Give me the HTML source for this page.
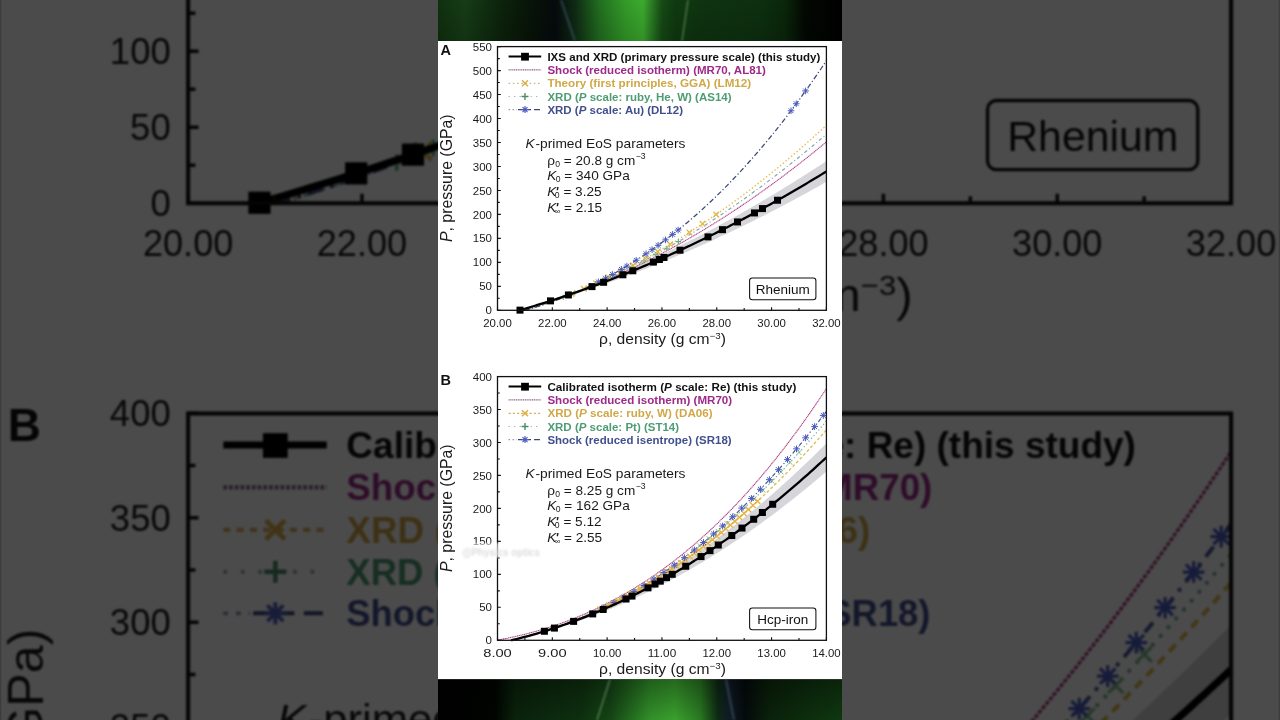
<!DOCTYPE html>
<html><head><meta charset="utf-8"><title>Shorts</title>
<style>
html,body{margin:0;padding:0;width:1280px;height:720px;overflow:hidden;background:#505050;}
body{position:relative;font-family:"Liberation Sans", sans-serif;}
svg text{font-family:"Liberation Sans", sans-serif;}
#bg{position:absolute;left:0;top:0;width:1280px;height:720px;overflow:hidden;}
#bgs{position:absolute;left:438px;top:0;width:404px;height:720px;transform-origin:202px 359.6px;transform:scale(3.171);filter:blur(0.3px);}
#dim{position:absolute;left:0;top:0;width:1280px;height:720px;background:rgba(0,0,0,0.706);}
#fg{position:absolute;left:438px;top:0;width:404px;height:720px;filter:blur(0.3px);}
</style></head><body>
<svg width="0" height="0" style="position:absolute"><symbol id="P" viewBox="438 0 404 720">
<defs><filter id="blurA" x="-50%" y="-50%" width="200%" height="200%"><feGaussianBlur stdDeviation="9"/></filter><filter id="blurB" x="-50%" y="-50%" width="200%" height="200%"><feGaussianBlur stdDeviation="0.8"/></filter><clipPath id="clipA"><rect x="497.5" y="46.6" width="328.9" height="263.7"/></clipPath><clipPath id="clipB"><rect x="497.5" y="376.6" width="328.9" height="263.7"/></clipPath><clipPath id="clipAur0"><rect x="438" y="0" width="404" height="41"/></clipPath><clipPath id="clipAur1"><rect x="438" y="679" width="404" height="41"/></clipPath></defs>
<rect x="438" y="41" width="404" height="638" fill="#fff"/>
<linearGradient id="aurg0" x1="0" y1="0" x2="1" y2="0"><stop offset="0.0000" stop-color="#10300f"/><stop offset="0.0668" stop-color="#163c16"/><stop offset="0.1535" stop-color="#0c240c"/><stop offset="0.2277" stop-color="#081408"/><stop offset="0.2896" stop-color="#050a0d"/><stop offset="0.3391" stop-color="#0f2a14"/><stop offset="0.4010" stop-color="#227020"/><stop offset="0.4629" stop-color="#339a28"/><stop offset="0.5074" stop-color="#3caa2e"/><stop offset="0.5272" stop-color="#2c8024"/><stop offset="0.5545" stop-color="#154a15"/><stop offset="0.5866" stop-color="#0f3a10"/><stop offset="0.6485" stop-color="#0f3410"/><stop offset="0.7970" stop-color="#0d3010"/><stop offset="0.8589" stop-color="#0a260a"/><stop offset="0.9084" stop-color="#020802"/><stop offset="1.0000" stop-color="#000000"/></linearGradient>
<rect x="438" y="0" width="404" height="41" fill="url(#aurg0)"/>
<linearGradient id="aurv0" x1="0" y1="0" x2="0" y2="1"><stop offset="0" stop-color="#000" stop-opacity="0"/><stop offset="1" stop-color="#000" stop-opacity="0.15"/></linearGradient>
<rect x="438" y="0" width="404" height="41" fill="url(#aurv0)"/>
<path d="M561,0 L575,41" stroke="#5a7898" stroke-width="2.2" fill="none" opacity="0.4" filter="url(#blurB)"/>
<path d="M688,0 L682,41" stroke="#90c488" stroke-width="1.2" fill="none" opacity="0.6" filter="url(#blurB)"/>
<linearGradient id="aurg1" x1="0" y1="0" x2="1" y2="0"><stop offset="0.0000" stop-color="#000000"/><stop offset="0.1411" stop-color="#010401"/><stop offset="0.1906" stop-color="#0a220c"/><stop offset="0.3515" stop-color="#0e300f"/><stop offset="0.4257" stop-color="#154416"/><stop offset="0.4752" stop-color="#226a1e"/><stop offset="0.5248" stop-color="#32902a"/><stop offset="0.5866" stop-color="#3aa02e"/><stop offset="0.6485" stop-color="#2a7a22"/><stop offset="0.6931" stop-color="#0e2a14"/><stop offset="0.7178" stop-color="#101c26"/><stop offset="0.7599" stop-color="#050a0c"/><stop offset="0.8218" stop-color="#0a220a"/><stop offset="1.0000" stop-color="#0f3810"/></linearGradient>
<rect x="438" y="679.5" width="404" height="40.5" fill="url(#aurg1)"/>
<linearGradient id="aurv1" x1="0" y1="0" x2="0" y2="1"><stop offset="0" stop-color="#000" stop-opacity="0.35"/><stop offset="1" stop-color="#000" stop-opacity="0"/></linearGradient>
<rect x="438" y="679.5" width="404" height="40.5" fill="url(#aurv1)"/>
<path d="M726,679.5 L734,720.0" stroke="#5a7898" stroke-width="2.2" fill="none" opacity="0.4" filter="url(#blurB)"/>
<path d="M610,679.5 L597,720.0" stroke="#90c488" stroke-width="1.2" fill="none" opacity="0.6" filter="url(#blurB)"/>
<g clip-path="url(#clipA)">
<path d="M519.43,310.30 L522.01,309.50 L524.59,308.70 L527.17,307.88 L529.74,307.06 L532.32,306.23 L534.90,305.40 L537.48,304.55 L540.06,303.70 L542.64,302.84 L545.22,301.97 L547.80,301.09 L550.38,300.21 L552.96,299.31 L555.54,298.41 L558.12,297.50 L560.70,296.59 L563.28,295.66 L565.86,294.73 L568.44,293.79 L571.02,292.84 L573.60,291.89 L576.18,290.92 L578.76,289.95 L581.34,288.97 L583.92,287.98 L586.50,286.99 L589.07,285.98 L591.65,284.97 L594.23,283.95 L596.81,282.93 L599.39,281.89 L601.97,280.85 L604.55,279.80 L607.13,278.74 L609.71,277.68 L612.29,276.61 L614.87,275.53 L617.45,274.44 L620.03,273.34 L622.61,272.24 L625.19,271.13 L627.77,270.01 L630.35,268.88 L632.93,267.74 L635.51,266.60 L638.09,265.45 L640.67,264.29 L643.25,263.13 L645.83,261.95 L648.41,260.77 L650.98,259.59 L653.56,258.39 L656.14,257.19 L658.72,255.97 L661.30,254.76 L663.88,253.53 L666.46,252.29 L669.04,251.05 L671.62,249.80 L674.20,248.55 L676.78,247.28 L679.36,246.01 L681.94,244.73 L684.52,243.44 L687.10,242.15 L689.68,240.84 L692.26,239.53 L694.84,238.22 L697.42,236.89 L700.00,235.56 L702.58,234.22 L705.16,232.87 L707.74,231.51 L710.32,230.15 L712.89,228.78 L715.47,227.40 L718.05,226.02 L720.63,224.62 L723.21,223.22 L725.79,221.81 L728.37,220.40 L730.95,218.97 L733.53,217.54 L736.11,216.11 L738.69,214.66 L741.27,213.21 L743.85,211.74 L746.43,210.28 L749.01,208.80 L751.59,207.32 L754.17,205.83 L756.75,204.33 L759.33,202.82 L761.91,201.31 L764.49,199.79 L767.07,198.26 L769.65,196.72 L772.22,195.18 L774.80,193.63 L777.38,192.07 L779.96,190.51 L782.54,188.93 L785.12,187.35 L787.70,185.76 L790.28,184.17 L792.86,182.57 L795.44,180.96 L798.02,179.34 L800.60,177.71 L803.18,176.08 L805.76,174.44 L808.34,172.79 L810.92,171.14 L813.50,169.47 L816.08,167.80 L818.66,166.13 L821.24,164.44 L823.82,162.75 L826.40,161.05 L826.40,181.87 L823.82,183.34 L821.24,184.79 L818.66,186.24 L816.08,187.69 L813.50,189.12 L810.92,190.55 L808.34,191.98 L805.76,193.40 L803.18,194.81 L800.60,196.21 L798.02,197.61 L795.44,199.00 L792.86,200.39 L790.28,201.77 L787.70,203.14 L785.12,204.51 L782.54,205.87 L779.96,207.22 L777.38,208.57 L774.80,209.91 L772.22,211.24 L769.65,212.57 L767.07,213.89 L764.49,215.21 L761.91,216.52 L759.33,217.82 L756.75,219.11 L754.17,220.40 L751.59,221.69 L749.01,222.96 L746.43,224.23 L743.85,225.50 L741.27,226.75 L738.69,228.00 L736.11,229.25 L733.53,230.49 L730.95,231.72 L728.37,232.94 L725.79,234.16 L723.21,235.37 L720.63,236.58 L718.05,237.78 L715.47,238.97 L712.89,240.15 L710.32,241.33 L707.74,242.51 L705.16,243.67 L702.58,244.83 L700.00,245.99 L697.42,247.13 L694.84,248.27 L692.26,249.41 L689.68,250.54 L687.10,251.66 L684.52,252.77 L681.94,253.88 L679.36,254.98 L676.78,256.07 L674.20,257.16 L671.62,258.24 L669.04,259.32 L666.46,260.39 L663.88,261.45 L661.30,262.51 L658.72,263.55 L656.14,264.60 L653.56,265.63 L650.98,266.66 L648.41,267.68 L645.83,268.70 L643.25,269.71 L640.67,270.71 L638.09,271.71 L635.51,272.70 L632.93,273.68 L630.35,274.66 L627.77,275.63 L625.19,276.59 L622.61,277.55 L620.03,278.50 L617.45,279.44 L614.87,280.38 L612.29,281.31 L609.71,282.23 L607.13,283.15 L604.55,284.06 L601.97,284.96 L599.39,285.86 L596.81,286.75 L594.23,287.63 L591.65,288.51 L589.07,289.38 L586.50,290.24 L583.92,291.10 L581.34,291.95 L578.76,292.79 L576.18,293.63 L573.60,294.46 L571.02,295.28 L568.44,296.09 L565.86,296.90 L563.28,297.71 L560.70,298.50 L558.12,299.29 L555.54,300.07 L552.96,300.85 L550.38,301.62 L547.80,302.38 L545.22,303.13 L542.64,303.88 L540.06,304.62 L537.48,305.35 L534.90,306.08 L532.32,306.80 L529.74,307.52 L527.17,308.22 L524.59,308.92 L522.01,309.61 L519.43,310.30Z" fill="#d6d6da"/>
<path d="M519.43,310.30 L521.49,309.73 L523.55,309.15 L525.61,308.57 L527.67,307.97 L529.73,307.37 L531.79,306.77 L533.85,306.15 L535.91,305.53 L537.97,304.90 L540.03,304.27 L542.09,303.63 L544.15,302.98 L546.21,302.32 L548.27,301.66 L550.33,300.98 L552.39,300.30 L554.45,299.62 L556.51,298.92 L558.57,298.22 L560.63,297.51 L562.69,296.80 L564.75,296.08 L566.81,295.35 L568.87,294.61 L570.93,293.86 L572.99,293.11 L575.05,292.35 L577.11,291.58 L579.17,290.81 L581.23,290.02 L583.29,289.23 L585.35,288.44 L587.41,287.63 L589.47,286.82 L591.53,286.00 L593.59,285.17 L595.65,284.34 L597.71,283.49 L599.77,282.64 L601.83,281.79 L603.89,280.92 L605.95,280.05 L608.01,279.17 L610.08,278.28 L612.14,277.39 L614.20,276.48 L616.26,275.57 L618.32,274.66 L620.38,273.73 L622.44,272.80 L624.50,271.86 L626.56,270.91 L628.62,269.95 L630.68,268.99 L632.74,268.02 L634.80,267.04 L636.86,266.05 L638.92,265.06 L640.98,264.05 L643.04,263.04 L645.10,262.03 L647.16,261.00 L649.22,259.97 L651.28,258.93 L653.34,257.88 L655.40,256.82 L657.46,255.76 L659.52,254.69 L661.58,253.61 L663.64,252.52 L665.70,251.43 L667.76,250.32 L669.82,249.21 L671.88,248.10 L673.94,246.97 L676.00,245.84 L678.06,244.70 L680.12,243.55 L682.18,242.39 L684.24,241.23 L686.30,240.05 L688.36,238.87 L690.42,237.68 L692.48,236.49 L694.54,235.29 L696.60,234.07 L698.66,232.85 L700.72,231.63 L702.78,230.39 L704.84,229.15 L706.90,227.90 L708.96,226.64 L711.02,225.38 L713.09,224.10 L715.15,222.82 L717.21,221.53 L719.27,220.23 L721.33,218.93 L723.39,217.61 L725.45,216.29 L727.51,214.96 L729.57,213.63 L731.63,212.28 L733.69,210.93 L735.75,209.57 L737.81,208.20 L739.87,206.82 L741.93,205.44 L743.99,204.05 L746.05,202.65 L748.11,201.24 L750.17,199.83 L752.23,198.40 L754.29,196.97 L756.35,195.53 L758.41,194.08 L760.47,192.63 L762.53,191.17 L764.59,189.70 L766.65,188.22 L768.71,186.73 L770.77,185.24 L772.83,183.73 L774.89,182.22 L776.95,180.70 L779.01,179.18 L781.07,177.64 L783.13,176.10 L785.19,174.55 L787.25,172.99 L789.31,171.43 L791.37,169.85 L793.43,168.27 L795.49,166.68 L797.55,165.09 L799.61,163.48 L801.67,161.87 L803.73,160.25 L805.79,158.62 L807.85,156.98 L809.91,155.34 L811.97,153.68 L814.03,152.02 L816.10,150.35 L818.16,148.68 L820.22,146.99 L822.28,145.30 L824.34,143.60 L826.40,141.89" stroke="#b03c88" stroke-width="1.05" stroke-dasharray="1.3 0.5" fill="none"/>
<path d="M524.91,310.73 L526.93,310.09 L528.95,309.44 L530.98,308.78 L533.00,308.12 L535.03,307.44 L537.05,306.76 L539.07,306.07 L541.10,305.37 L543.12,304.67 L545.14,303.95 L547.17,303.23 L549.19,302.51 L551.21,301.77 L553.24,301.02 L555.26,300.27 L557.28,299.51 L559.31,298.74 L561.33,297.97 L563.35,297.18 L565.38,296.39 L567.40,295.59 L569.42,294.78 L571.45,293.97 L573.47,293.15 L575.49,292.31 L577.52,291.47 L579.54,290.63 L581.56,289.77 L583.59,288.91 L585.61,288.04 L587.63,287.16 L589.66,286.27 L591.68,285.37 L593.70,284.47 L595.73,283.56 L597.75,282.64 L599.77,281.71 L601.80,280.77 L603.82,279.83 L605.84,278.88 L607.87,277.92 L609.89,276.95 L611.91,275.97 L613.94,274.99 L615.96,273.99 L617.98,272.99 L620.01,271.98 L622.03,270.97 L624.06,269.94 L626.08,268.91 L628.10,267.86 L630.13,266.81 L632.15,265.76 L634.17,264.69 L636.20,263.62 L638.22,262.53 L640.24,261.44 L642.27,260.34 L644.29,259.23 L646.31,258.12 L648.34,256.99 L650.36,255.86 L652.38,254.72 L654.41,253.57 L656.43,252.41 L658.45,251.25 L660.48,250.08 L662.50,248.89 L664.52,247.70 L666.55,246.50 L668.57,245.30 L670.59,244.08 L672.62,242.86 L674.64,241.63 L676.66,240.39 L678.69,239.14 L680.71,237.88 L682.73,236.62 L684.76,235.34 L686.78,234.06 L688.80,232.77 L690.83,231.47 L692.85,230.17 L694.87,228.85 L696.90,227.53 L698.92,226.19 L700.94,224.85 L702.97,223.51 L704.99,222.15 L707.01,220.78 L709.04,219.41 L711.06,218.03 L713.09,216.64 L715.11,215.24 L717.13,213.83 L719.16,212.42 L721.18,210.99 L723.20,209.56 L725.23,208.12 L727.25,206.67 L729.27,205.21 L731.30,203.75 L733.32,202.27 L735.34,200.79 L737.37,199.30 L739.39,197.80 L741.41,196.29 L743.44,194.77 L745.46,193.25 L747.48,191.71 L749.51,190.17 L751.53,188.62 L753.55,187.06 L755.58,185.50 L757.60,183.92 L759.62,182.34 L761.65,180.74 L763.67,179.14 L765.69,177.54 L767.72,175.92 L769.74,174.29 L771.76,172.66 L773.79,171.01 L775.81,169.36 L777.83,167.70 L779.86,166.03 L781.88,164.36 L783.90,162.67 L785.93,160.98 L787.95,159.28 L789.97,157.57 L792.00,155.85 L794.02,154.12 L796.04,152.39 L798.07,150.64 L800.09,148.89 L802.12,147.13 L804.14,145.36 L806.16,143.58 L808.19,141.79 L810.21,140.00 L812.23,138.20 L814.26,136.38 L816.28,134.56 L818.30,132.73 L820.33,130.90 L822.35,129.05 L824.37,127.20 L826.40,125.34" stroke="#e8bc50" stroke-width="1.4" stroke-dasharray="1.4 2.2" fill="none"/>
<path d="M524.91,310.73 L526.93,310.09 L528.95,309.45 L530.98,308.80 L533.00,308.14 L535.03,307.47 L537.05,306.80 L539.07,306.12 L541.10,305.43 L543.12,304.73 L545.14,304.03 L547.17,303.32 L549.19,302.60 L551.21,301.88 L553.24,301.15 L555.26,300.41 L557.28,299.66 L559.31,298.91 L561.33,298.15 L563.35,297.38 L565.38,296.61 L567.40,295.82 L569.42,295.03 L571.45,294.24 L573.47,293.43 L575.49,292.62 L577.52,291.80 L579.54,290.97 L581.56,290.14 L583.59,289.30 L585.61,288.45 L587.63,287.59 L589.66,286.73 L591.68,285.86 L593.70,284.98 L595.73,284.10 L597.75,283.20 L599.77,282.30 L601.80,281.40 L603.82,280.48 L605.84,279.56 L607.87,278.63 L609.89,277.69 L611.91,276.75 L613.94,275.80 L615.96,274.84 L617.98,273.87 L620.01,272.89 L622.03,271.91 L624.06,270.92 L626.08,269.93 L628.10,268.92 L630.13,267.91 L632.15,266.89 L634.17,265.87 L636.20,264.83 L638.22,263.79 L640.24,262.74 L642.27,261.69 L644.29,260.62 L646.31,259.55 L648.34,258.47 L650.36,257.39 L652.38,256.29 L654.41,255.19 L656.43,254.09 L658.45,252.97 L660.48,251.85 L662.50,250.72 L664.52,249.58 L666.55,248.43 L668.57,247.28 L670.59,246.12 L672.62,244.95 L674.64,243.77 L676.66,242.59 L678.69,241.40 L680.71,240.20 L682.73,239.00 L684.76,237.79 L686.78,236.56 L688.80,235.34 L690.83,234.10 L692.85,232.86 L694.87,231.61 L696.90,230.35 L698.92,229.08 L700.94,227.81 L702.97,226.53 L704.99,225.24 L707.01,223.95 L709.04,222.65 L711.06,221.34 L713.09,220.02 L715.11,218.69 L717.13,217.36 L719.16,216.02 L721.18,214.67 L723.20,213.32 L725.23,211.95 L727.25,210.58 L729.27,209.21 L731.30,207.82 L733.32,206.43 L735.34,205.03 L737.37,203.62 L739.39,202.21 L741.41,200.78 L743.44,199.35 L745.46,197.92 L747.48,196.47 L749.51,195.02 L751.53,193.56 L753.55,192.09 L755.58,190.62 L757.60,189.13 L759.62,187.65 L761.65,186.15 L763.67,184.64 L765.69,183.13 L767.72,181.61 L769.74,180.08 L771.76,178.55 L773.79,177.01 L775.81,175.46 L777.83,173.90 L779.86,172.34 L781.88,170.77 L783.90,169.19 L785.93,167.60 L787.95,166.00 L789.97,164.40 L792.00,162.79 L794.02,161.18 L796.04,159.55 L798.07,157.92 L800.09,156.28 L802.12,154.64 L804.14,152.98 L806.16,151.32 L808.19,149.65 L810.21,147.98 L812.23,146.29 L814.26,144.60 L816.28,142.91 L818.30,141.20 L820.33,139.49 L822.35,137.77 L824.37,136.04 L826.40,134.30" stroke="#80a8a8" stroke-width="1.2" stroke-dasharray="3.5 2.5 1 2.5" fill="none"/>
<path d="M524.91,310.30 L526.93,309.73 L528.95,309.15 L530.98,308.56 L533.00,307.95 L535.03,307.34 L537.05,306.71 L539.07,306.07 L541.10,305.42 L543.12,304.76 L545.14,304.09 L547.17,303.40 L549.19,302.71 L551.21,302.00 L553.24,301.28 L555.26,300.54 L557.28,299.80 L559.31,299.04 L561.33,298.27 L563.35,297.49 L565.38,296.69 L567.40,295.88 L569.42,295.06 L571.45,294.23 L573.47,293.38 L575.49,292.52 L577.52,291.65 L579.54,290.76 L581.56,289.86 L583.59,288.95 L585.61,288.02 L587.63,287.08 L589.66,286.13 L591.68,285.16 L593.70,284.18 L595.73,283.19 L597.75,282.18 L599.77,281.16 L601.80,280.12 L603.82,279.07 L605.84,278.01 L607.87,276.93 L609.89,275.83 L611.91,274.73 L613.94,273.60 L615.96,272.47 L617.98,271.32 L620.01,270.15 L622.03,268.97 L624.06,267.77 L626.08,266.56 L628.10,265.34 L630.13,264.10 L632.15,262.84 L634.17,261.57 L636.20,260.28 L638.22,258.98 L640.24,257.66 L642.27,256.33 L644.29,254.98 L646.31,253.62 L648.34,252.24 L650.36,250.84 L652.38,249.43 L654.41,248.00 L656.43,246.55 L658.45,245.09 L660.48,243.62 L662.50,242.12 L664.52,240.62 L666.55,239.09 L668.57,237.55 L670.59,235.99 L672.62,234.41 L674.64,232.82 L676.66,231.21 L678.69,229.59 L680.71,227.94 L682.73,226.28 L684.76,224.61 L686.78,222.91 L688.80,221.20 L690.83,219.47 L692.85,217.73 L694.87,215.96 L696.90,214.18 L698.92,212.38 L700.94,210.57 L702.97,208.73 L704.99,206.88 L707.01,205.01 L709.04,203.12 L711.06,201.22 L713.09,199.29 L715.11,197.35 L717.13,195.39 L719.16,193.41 L721.18,191.42 L723.20,189.40 L725.23,187.37 L727.25,185.32 L729.27,183.24 L731.30,181.15 L733.32,179.05 L735.34,176.92 L737.37,174.77 L739.39,172.61 L741.41,170.42 L743.44,168.22 L745.46,166.00 L747.48,163.76 L749.51,161.50 L751.53,159.22 L753.55,156.92 L755.58,154.60 L757.60,152.26 L759.62,149.90 L761.65,147.52 L763.67,145.13 L765.69,142.71 L767.72,140.27 L769.74,137.82 L771.76,135.34 L773.79,132.84 L775.81,130.32 L777.83,127.79 L779.86,125.23 L781.88,122.65 L783.90,120.05 L785.93,117.43 L787.95,114.79 L789.97,112.13 L792.00,109.45 L794.02,106.75 L796.04,104.03 L798.07,101.29 L800.09,98.52 L802.12,95.74 L804.14,92.93 L806.16,90.11 L808.19,87.26 L810.21,84.39 L812.23,81.50 L814.26,78.59 L816.28,75.66 L818.30,72.70 L820.33,69.73 L822.35,66.73 L824.37,63.71 L826.40,60.67" stroke="#3c4674" stroke-width="1.25" stroke-dasharray="5 2.3 1.2 2.3" fill="none"/>

</g>

<path d="M560.68,297.41L565.88,297.41M563.28,294.81L563.28,300.01" stroke="#60b080" stroke-width="1.1" fill="none"/>
<path d="M572.19,292.90L577.39,292.90M574.79,290.30L574.79,295.50" stroke="#60b080" stroke-width="1.1" fill="none"/>
<path d="M583.70,288.16L588.90,288.16M586.30,285.56L586.30,290.76" stroke="#60b080" stroke-width="1.1" fill="none"/>
<path d="M595.21,283.18L600.41,283.18M597.81,280.58L597.81,285.78" stroke="#60b080" stroke-width="1.1" fill="none"/>
<path d="M606.72,277.95L611.92,277.95M609.32,275.35L609.32,280.55" stroke="#60b080" stroke-width="1.1" fill="none"/>
<path d="M618.24,272.49L623.44,272.49M620.84,269.89L620.84,275.09" stroke="#60b080" stroke-width="1.1" fill="none"/>
<path d="M629.75,266.79L634.95,266.79M632.35,264.19L632.35,269.39" stroke="#60b080" stroke-width="1.1" fill="none"/>
<path d="M641.26,260.85L646.46,260.85M643.86,258.25L643.86,263.45" stroke="#60b080" stroke-width="1.1" fill="none"/>
<path d="M652.77,254.67L657.97,254.67M655.37,252.07L655.37,257.27" stroke="#60b080" stroke-width="1.1" fill="none"/>
<path d="M664.28,248.24L669.48,248.24M666.88,245.64L666.88,250.84" stroke="#60b080" stroke-width="1.1" fill="none"/>
<path d="M675.79,241.58L680.99,241.58M678.39,238.98L678.39,244.18" stroke="#60b080" stroke-width="1.1" fill="none"/>
<path d="M568.70,291.15L574.30,296.75M568.70,296.75L574.30,291.15" stroke="#e0b848" stroke-width="1.3" fill="none"/>
<path d="M581.04,286.00L586.64,291.60M581.04,291.60L586.64,286.00" stroke="#e0b848" stroke-width="1.3" fill="none"/>
<path d="M593.37,280.56L598.97,286.16M593.37,286.16L598.97,280.56" stroke="#e0b848" stroke-width="1.3" fill="none"/>
<path d="M605.70,274.81L611.30,280.41M605.70,280.41L611.30,274.81" stroke="#e0b848" stroke-width="1.3" fill="none"/>
<path d="M618.04,268.77L623.64,274.37M618.04,274.37L623.64,268.77" stroke="#e0b848" stroke-width="1.3" fill="none"/>
<path d="M630.37,262.42L635.97,268.02M630.37,268.02L635.97,262.42" stroke="#e0b848" stroke-width="1.3" fill="none"/>
<path d="M642.70,255.77L648.30,261.37M642.70,261.37L648.30,255.77" stroke="#e0b848" stroke-width="1.3" fill="none"/>
<path d="M655.04,248.80L660.64,254.40M655.04,254.40L660.64,248.80" stroke="#e0b848" stroke-width="1.3" fill="none"/>
<path d="M667.37,241.54L672.97,247.14M667.37,247.14L672.97,241.54" stroke="#e0b848" stroke-width="1.3" fill="none"/>
<path d="M686.56,229.62L692.16,235.22M686.56,235.22L692.16,229.62" stroke="#e0b848" stroke-width="1.3" fill="none"/>
<path d="M699.71,221.01L705.31,226.61M699.71,226.61L705.31,221.01" stroke="#e0b848" stroke-width="1.3" fill="none"/>
<path d="M713.42,211.67L719.02,217.27M713.42,217.27L719.02,211.67" stroke="#e0b848" stroke-width="1.3" fill="none"/>
<path d="M598.36,278.57L598.36,285.17M595.99,279.50L600.74,284.25M595.99,284.25L600.74,279.50M595.06,281.87L601.66,281.87" stroke="#4a5cc0" stroke-width="1.0" fill="none"/>
<path d="M605.49,274.89L605.49,281.49M603.11,275.82L607.86,280.57M603.11,280.57L607.86,275.82M602.19,278.19L608.79,278.19" stroke="#4a5cc0" stroke-width="1.0" fill="none"/>
<path d="M612.34,271.19L612.34,277.79M609.96,272.12L614.72,276.87M609.96,276.87L614.72,272.12M609.04,274.49L615.64,274.49" stroke="#4a5cc0" stroke-width="1.0" fill="none"/>
<path d="M621.38,266.05L621.38,272.65M619.01,266.97L623.76,271.72M619.01,271.72L623.76,266.97M618.08,269.35L624.68,269.35" stroke="#4a5cc0" stroke-width="1.0" fill="none"/>
<path d="M626.87,262.79L626.87,269.39M624.49,263.71L629.24,268.46M624.49,268.46L629.24,263.71M623.57,266.09L630.17,266.09" stroke="#4a5cc0" stroke-width="1.0" fill="none"/>
<path d="M636.18,256.99L636.18,263.59M633.81,257.91L638.56,262.66M633.81,262.66L638.56,257.91M632.88,260.29L639.48,260.29" stroke="#4a5cc0" stroke-width="1.0" fill="none"/>
<path d="M646.05,250.49L646.05,257.09M643.68,251.42L648.43,256.17M643.68,256.17L648.43,251.42M642.75,253.79L649.35,253.79" stroke="#4a5cc0" stroke-width="1.0" fill="none"/>
<path d="M652.08,246.34L652.08,252.94M649.71,247.26L654.46,252.01M649.71,252.01L654.46,247.26M648.78,249.64L655.38,249.64" stroke="#4a5cc0" stroke-width="1.0" fill="none"/>
<path d="M658.11,242.04L658.11,248.64M655.73,242.97L660.49,247.72M655.73,247.72L660.49,242.97M654.81,245.34L661.41,245.34" stroke="#4a5cc0" stroke-width="1.0" fill="none"/>
<path d="M665.51,236.57L665.51,243.17M663.14,237.50L667.89,242.25M663.14,242.25L667.89,237.50M662.21,239.87L668.81,239.87" stroke="#4a5cc0" stroke-width="1.0" fill="none"/>
<path d="M672.64,231.10L672.64,237.70M670.26,232.02L675.01,236.77M670.26,236.77L675.01,232.02M669.34,234.40L675.94,234.40" stroke="#4a5cc0" stroke-width="1.0" fill="none"/>
<path d="M678.12,226.74L678.12,233.34M675.74,227.67L680.49,232.42M675.74,232.42L680.49,227.67M674.82,230.04L681.42,230.04" stroke="#4a5cc0" stroke-width="1.0" fill="none"/>
<path d="M791.04,107.43L791.04,114.03M788.66,108.35L793.42,113.10M788.66,113.10L793.42,108.35M787.74,110.73L794.34,110.73" stroke="#4a5cc0" stroke-width="1.0" fill="none"/>
<path d="M796.25,100.46L796.25,107.06M793.87,101.38L798.62,106.13M793.87,106.13L798.62,101.38M792.95,103.76L799.55,103.76" stroke="#4a5cc0" stroke-width="1.0" fill="none"/>
<path d="M805.57,87.64L805.57,94.24M803.19,88.57L807.94,93.32M803.19,93.32L807.94,88.57M802.27,90.94L808.87,90.94" stroke="#4a5cc0" stroke-width="1.0" fill="none"/>
<path d="M519.43,310.30 L522.01,309.56 L524.59,308.81 L527.17,308.05 L529.74,307.29 L532.32,306.52 L534.90,305.74 L537.48,304.95 L540.06,304.16 L542.64,303.36 L545.22,302.55 L547.80,301.73 L550.38,300.91 L552.96,300.08 L555.54,299.24 L558.12,298.40 L560.70,297.54 L563.28,296.68 L565.86,295.82 L568.44,294.94 L571.02,294.06 L573.60,293.17 L576.18,292.27 L578.76,291.37 L581.34,290.46 L583.92,289.54 L586.50,288.61 L589.07,287.68 L591.65,286.74 L594.23,285.79 L596.81,284.84 L599.39,283.88 L601.97,282.91 L604.55,281.93 L607.13,280.95 L609.71,279.96 L612.29,278.96 L614.87,277.95 L617.45,276.94 L620.03,275.92 L622.61,274.89 L625.19,273.86 L627.77,272.82 L630.35,271.77 L632.93,270.71 L635.51,269.65 L638.09,268.58 L640.67,267.50 L643.25,266.42 L645.83,265.33 L648.41,264.23 L650.98,263.12 L653.56,262.01 L656.14,260.89 L658.72,259.76 L661.30,258.63 L663.88,257.49 L666.46,256.34 L669.04,255.19 L671.62,254.02 L674.20,252.85 L676.78,251.68 L679.36,250.49 L681.94,249.30 L684.52,248.11 L687.10,246.90 L689.68,245.69 L692.26,244.47 L694.84,243.25 L697.42,242.01 L700.00,240.77 L702.58,239.53 L705.16,238.27 L707.74,237.01 L710.32,235.74 L712.89,234.47 L715.47,233.19 L718.05,231.90 L720.63,230.60 L723.21,229.30 L725.79,227.99 L728.37,226.67 L730.95,225.35 L733.53,224.01 L736.11,222.68 L738.69,221.33 L741.27,219.98 L743.85,218.62 L746.43,217.25 L749.01,215.88 L751.59,214.50 L754.17,213.12 L756.75,211.72 L759.33,210.32 L761.91,208.91 L764.49,207.50 L767.07,206.08 L769.65,204.65 L772.22,203.21 L774.80,201.77 L777.38,200.32 L779.96,198.86 L782.54,197.40 L785.12,195.93 L787.70,194.45 L790.28,192.97 L792.86,191.48 L795.44,189.98 L798.02,188.47 L800.60,186.96 L803.18,185.44 L805.76,183.92 L808.34,182.38 L810.92,180.85 L813.50,179.30 L816.08,177.75 L818.66,176.18 L821.24,174.62 L823.82,173.04 L826.40,171.46" stroke="#000" stroke-width="2.3" fill="none"/>
<rect x="516.50" y="306.64" width="7" height="7" fill="#000"/>
<rect x="547.00" y="297.37" width="7" height="7" fill="#000"/>
<rect x="564.90" y="291.46" width="7" height="7" fill="#000"/>
<rect x="588.50" y="283.11" width="7" height="7" fill="#000"/>
<rect x="600.10" y="278.79" width="7" height="7" fill="#000"/>
<rect x="619.40" y="271.28" width="7" height="7" fill="#000"/>
<rect x="629.30" y="267.27" width="7" height="7" fill="#000"/>
<rect x="649.90" y="258.58" width="7" height="7" fill="#000"/>
<rect x="655.90" y="255.97" width="7" height="7" fill="#000"/>
<rect x="660.50" y="253.94" width="7" height="7" fill="#000"/>
<rect x="676.50" y="246.70" width="7" height="7" fill="#000"/>
<rect x="704.50" y="233.38" width="7" height="7" fill="#000"/>
<rect x="719.00" y="226.16" width="7" height="7" fill="#000"/>
<rect x="734.00" y="218.45" width="7" height="7" fill="#000"/>
<rect x="751.00" y="209.44" width="7" height="7" fill="#000"/>
<rect x="759.00" y="205.09" width="7" height="7" fill="#000"/>
<rect x="774.00" y="196.75" width="7" height="7" fill="#000"/>
<rect x="497.5" y="46.6" width="328.90" height="263.70" fill="none" stroke="#111" stroke-width="1.3"/>
<path d="M497.50,310.30h3.3 M497.50,298.31h2.3 M497.50,286.33h3.3 M497.50,274.34h2.3 M497.50,262.36h3.3 M497.50,250.37h2.3 M497.50,238.38h3.3 M497.50,226.40h2.3 M497.50,214.41h3.3 M497.50,202.42h2.3 M497.50,190.44h3.3 M497.50,178.45h2.3 M497.50,166.47h3.3 M497.50,154.48h2.3 M497.50,142.49h3.3 M497.50,130.51h2.3 M497.50,118.52h3.3 M497.50,106.53h2.3 M497.50,94.55h3.3 M497.50,82.56h2.3 M497.50,70.58h3.3 M497.50,58.59h2.3 M497.50,46.60h3.3 M497.50,310.30v-3.0 M524.91,310.30v-2.2 M552.32,310.30v-3.0 M579.72,310.30v-2.2 M607.13,310.30v-3.0 M634.54,310.30v-2.2 M661.95,310.30v-3.0 M689.36,310.30v-2.2 M716.76,310.30v-3.0 M744.17,310.30v-2.2 M771.58,310.30v-3.0 M798.99,310.30v-2.2 M826.40,310.30v-3.0" stroke="#111" stroke-width="1.1" fill="none"/>
<g font-size="11.5" fill="#1a1a1a"><text x="492" y="314.40" text-anchor="end">0</text><text x="492" y="290.43" text-anchor="end">50</text><text x="492" y="266.46" text-anchor="end">100</text><text x="492" y="242.48" text-anchor="end">150</text><text x="492" y="218.51" text-anchor="end">200</text><text x="492" y="194.54" text-anchor="end">250</text><text x="492" y="170.56" text-anchor="end">300</text><text x="492" y="146.59" text-anchor="end">350</text><text x="492" y="122.62" text-anchor="end">400</text><text x="492" y="98.65" text-anchor="end">450</text><text x="492" y="74.68" text-anchor="end">500</text><text x="492" y="50.70" text-anchor="end">550</text><text x="497.50" y="326.90" text-anchor="middle" textLength="28.5" lengthAdjust="spacingAndGlyphs">20.00</text><text x="552.32" y="326.90" text-anchor="middle" textLength="28.5" lengthAdjust="spacingAndGlyphs">22.00</text><text x="607.13" y="326.90" text-anchor="middle" textLength="28.5" lengthAdjust="spacingAndGlyphs">24.00</text><text x="661.95" y="326.90" text-anchor="middle" textLength="28.5" lengthAdjust="spacingAndGlyphs">26.00</text><text x="716.76" y="326.90" text-anchor="middle" textLength="28.5" lengthAdjust="spacingAndGlyphs">28.00</text><text x="771.58" y="326.90" text-anchor="middle" textLength="28.5" lengthAdjust="spacingAndGlyphs">30.00</text><text x="826.40" y="326.90" text-anchor="middle" textLength="28.5" lengthAdjust="spacingAndGlyphs">32.00</text></g>
<text x="440.6" y="55.40" font-size="14.5" font-weight="bold" fill="#111">A</text>
<text x="599" y="344.30" font-size="14.4" fill="#1a1a1a" textLength="127" lengthAdjust="spacingAndGlyphs">ρ, density (g cm<tspan dy="-5" font-size="9">−3</tspan><tspan dy="5">)</tspan></text>
<text transform="translate(451.8,242.00) rotate(-90)" x="0" y="0" font-size="15.8" fill="#1a1a1a" textLength="127.6" lengthAdjust="spacingAndGlyphs"><tspan font-style="italic">P</tspan>, pressure (GPa)</text>
<path d="M508.6,56.50H541.2" stroke="#000" stroke-width="2.2"/><rect x="521.10" y="52.80" width="7.8" height="7.8" fill="#000"/>
<text x="547.4" y="60.60" font-size="11.5" font-weight="bold" fill="#111" textLength="273.0" lengthAdjust="spacingAndGlyphs">IXS and XRD (primary pressure scale) (this study)</text>
<path d="M508.6,69.90H541.2" stroke="#8c6488" stroke-width="1.3" stroke-dasharray="1.2 0.6"/>
<text x="547.4" y="74.00" font-size="11.5" font-weight="bold" fill="#9e2a8a" textLength="218.5" lengthAdjust="spacingAndGlyphs">Shock (reduced isotherm) (MR70, AL81)</text>
<path d="M508.6,83.30H541.2" stroke="#c8b88c" stroke-width="1.3" stroke-dasharray="1.6 2.6"/><path d="M522.00,80.30L528.00,86.30M522.00,86.30L528.00,80.30" stroke="#dcb048" stroke-width="1.5" fill="none"/>
<text x="547.4" y="87.40" font-size="11.5" font-weight="bold" fill="#d0a848" textLength="203.8" lengthAdjust="spacingAndGlyphs">Theory (first principles, GGA) (LM12)</text>
<path d="M508.6,96.50H541.2" stroke="#a0aaa4" stroke-width="1.2" stroke-dasharray="1.2 4.3"/><path d="M521.50,96.50L528.50,96.50M525.00,93.00L525.00,100.00" stroke="#4a8c6a" stroke-width="1.4" fill="none"/>
<text x="547.4" y="100.60" font-size="11.5" font-weight="bold" fill="#4e9c74" textLength="184.2" lengthAdjust="spacingAndGlyphs">XRD (<tspan font-style="italic">P</tspan> scale: ruby, He, W) (AS14)</text>
<path d="M508.6,109.60H517" stroke="#9098b0" stroke-width="1.2" stroke-dasharray="1.5 2.5"/><path d="M518,109.60H531M534,109.60H540" stroke="#3c4678" stroke-width="1.3"/><path d="M525.00,106.10L525.00,113.10M522.48,107.08L527.52,112.12M522.48,112.12L527.52,107.08M521.50,109.60L528.50,109.60" stroke="#5060c0" stroke-width="1.2" fill="none"/>
<text x="547.4" y="113.70" font-size="11.5" font-weight="bold" fill="#414f8e" textLength="135.6" lengthAdjust="spacingAndGlyphs">XRD (<tspan font-style="italic">P</tspan> scale: Au) (DL12)</text>
<text x="525.5" y="147.60" font-size="13.6" fill="#1a1a1a" textLength="160" lengthAdjust="spacingAndGlyphs"><tspan font-style="italic">K</tspan><tspan dx="0.8">-primed EoS parameters</tspan></text>
<text x="547.3" y="164.50" font-size="13.6" fill="#1a1a1a">ρ<tspan font-size="8.6" dx="0.2" dy="2">0</tspan><tspan dy="-2"> = 20.8 g cm</tspan><tspan font-size="8.6" dx="0.5" dy="-5.5">−3</tspan></text>
<text x="547.3" y="180.20" font-size="13.6" fill="#1a1a1a"><tspan font-style="italic">K</tspan><tspan font-size="8.6" dx="-0.6" dy="2">0</tspan><tspan dy="-2"> = 340 GPa</tspan></text>
<text x="547.3" y="196.20" font-size="13.6" fill="#1a1a1a"><tspan font-style="italic">K</tspan><tspan font-size="12" font-style="italic" font-weight="bold" dx="-0.8" dy="-0.5">&#39;</tspan><tspan font-size="8.6" dx="-3.6" dy="2.5">0</tspan><tspan dy="-2"> = 3.25</tspan></text>
<text x="547.3" y="212.30" font-size="13.6" fill="#1a1a1a"><tspan font-style="italic">K</tspan><tspan font-size="12" font-style="italic" font-weight="bold" dx="-0.8" dy="-0.5">&#39;</tspan><tspan font-size="8" dx="-3.9" dy="2.5">∞</tspan><tspan dy="-2"> = 2.15</tspan></text>
<rect x="749.6" y="277.90" width="66.3" height="21.8" rx="2.8" fill="#fff" stroke="#111" stroke-width="1.05"/>
<text x="782.8" y="293.70" text-anchor="middle" font-size="13.5" fill="#111">Rhenium</text>
<g clip-path="url(#clipB)">
<path d="M511.20,640.30 L513.85,639.62 L516.50,638.92 L519.15,638.21 L521.80,637.47 L524.45,636.73 L527.10,635.96 L529.75,635.18 L532.39,634.39 L535.04,633.58 L537.69,632.75 L540.34,631.90 L542.99,631.04 L545.64,630.17 L548.29,629.27 L550.94,628.36 L553.58,627.44 L556.23,626.50 L558.88,625.54 L561.53,624.56 L564.18,623.57 L566.83,622.57 L569.48,621.54 L572.12,620.51 L574.77,619.45 L577.42,618.38 L580.07,617.29 L582.72,616.19 L585.37,615.07 L588.02,613.93 L590.67,612.77 L593.31,611.61 L595.96,610.42 L598.61,609.22 L601.26,608.00 L603.91,606.76 L606.56,605.51 L609.21,604.25 L611.86,602.96 L614.50,601.66 L617.15,600.35 L619.80,599.01 L622.45,597.66 L625.10,596.30 L627.75,594.91 L630.40,593.52 L633.05,592.10 L635.69,590.67 L638.34,589.22 L640.99,587.76 L643.64,586.27 L646.29,584.78 L648.94,583.26 L651.59,581.73 L654.24,580.18 L656.88,578.62 L659.53,577.04 L662.18,575.44 L664.83,573.83 L667.48,572.20 L670.13,570.55 L672.78,568.89 L675.42,567.21 L678.07,565.51 L680.72,563.80 L683.37,562.06 L686.02,560.32 L688.67,558.55 L691.32,556.77 L693.97,554.97 L696.61,553.16 L699.26,551.33 L701.91,549.48 L704.56,547.62 L707.21,545.73 L709.86,543.83 L712.51,541.92 L715.16,539.99 L717.80,538.04 L720.45,536.07 L723.10,534.08 L725.75,532.08 L728.40,530.07 L731.05,528.03 L733.70,525.98 L736.35,523.91 L738.99,521.82 L741.64,519.72 L744.29,517.60 L746.94,515.46 L749.59,513.31 L752.24,511.14 L754.89,508.95 L757.54,506.74 L760.18,504.52 L762.83,502.27 L765.48,500.02 L768.13,497.74 L770.78,495.45 L773.43,493.14 L776.08,490.81 L778.73,488.46 L781.37,486.10 L784.02,483.72 L786.67,481.32 L789.32,478.91 L791.97,476.48 L794.62,474.03 L797.27,471.56 L799.91,469.07 L802.56,466.57 L805.21,464.05 L807.86,461.51 L810.51,458.95 L813.16,456.38 L815.81,453.79 L818.46,451.18 L821.10,448.55 L823.75,445.91 L826.40,443.25 L826.40,471.42 L823.75,473.71 L821.10,475.97 L818.46,478.22 L815.81,480.46 L813.16,482.68 L810.51,484.89 L807.86,487.08 L805.21,489.25 L802.56,491.41 L799.91,493.56 L797.27,495.69 L794.62,497.80 L791.97,499.90 L789.32,501.99 L786.67,504.06 L784.02,506.11 L781.37,508.15 L778.73,510.17 L776.08,512.18 L773.43,514.18 L770.78,516.16 L768.13,518.12 L765.48,520.08 L762.83,522.01 L760.18,523.93 L757.54,525.84 L754.89,527.73 L752.24,529.60 L749.59,531.47 L746.94,533.31 L744.29,535.14 L741.64,536.96 L738.99,538.76 L736.35,540.55 L733.70,542.33 L731.05,544.08 L728.40,545.83 L725.75,547.56 L723.10,549.27 L720.45,550.97 L717.80,552.66 L715.16,554.33 L712.51,555.99 L709.86,557.63 L707.21,559.26 L704.56,560.87 L701.91,562.47 L699.26,564.05 L696.61,565.62 L693.97,567.18 L691.32,568.72 L688.67,570.24 L686.02,571.75 L683.37,573.25 L680.72,574.73 L678.07,576.20 L675.42,577.66 L672.78,579.10 L670.13,580.52 L667.48,581.94 L664.83,583.33 L662.18,584.72 L659.53,586.09 L656.88,587.44 L654.24,588.78 L651.59,590.11 L648.94,591.42 L646.29,592.72 L643.64,594.00 L640.99,595.27 L638.34,596.52 L635.69,597.77 L633.05,598.99 L630.40,600.21 L627.75,601.40 L625.10,602.59 L622.45,603.76 L619.80,604.92 L617.15,606.06 L614.50,607.19 L611.86,608.30 L609.21,609.40 L606.56,610.49 L603.91,611.56 L601.26,612.62 L598.61,613.66 L595.96,614.69 L593.31,615.71 L590.67,616.71 L588.02,617.70 L585.37,618.67 L582.72,619.63 L580.07,620.58 L577.42,621.51 L574.77,622.43 L572.12,623.34 L569.48,624.23 L566.83,625.10 L564.18,625.97 L561.53,626.81 L558.88,627.65 L556.23,628.47 L553.58,629.28 L550.94,630.07 L548.29,630.85 L545.64,631.62 L542.99,632.37 L540.34,633.10 L537.69,633.83 L535.04,634.54 L532.39,635.23 L529.75,635.92 L527.10,636.58 L524.45,637.24 L521.80,637.88 L519.15,638.50 L516.50,639.12 L513.85,639.72 L511.20,640.30Z" fill="#d6d6da"/>
<path d="M497.50,640.12 L499.71,639.71 L501.91,639.30 L504.12,638.86 L506.33,638.42 L508.54,637.97 L510.74,637.50 L512.95,637.02 L515.16,636.53 L517.37,636.03 L519.57,635.51 L521.78,634.98 L523.99,634.44 L526.20,633.89 L528.40,633.32 L530.61,632.74 L532.82,632.14 L535.03,631.54 L537.23,630.91 L539.44,630.28 L541.65,629.63 L543.86,628.97 L546.06,628.29 L548.27,627.60 L550.48,626.89 L552.68,626.17 L554.89,625.44 L557.10,624.69 L559.31,623.93 L561.51,623.15 L563.72,622.35 L565.93,621.54 L568.14,620.72 L570.34,619.88 L572.55,619.03 L574.76,618.15 L576.97,617.27 L579.17,616.36 L581.38,615.45 L583.59,614.51 L585.80,613.56 L588.00,612.59 L590.21,611.61 L592.42,610.61 L594.63,609.59 L596.83,608.56 L599.04,607.51 L601.25,606.44 L603.46,605.35 L605.66,604.25 L607.87,603.13 L610.08,601.99 L612.28,600.84 L614.49,599.67 L616.70,598.48 L618.91,597.27 L621.11,596.04 L623.32,594.80 L625.53,593.53 L627.74,592.25 L629.94,590.95 L632.15,589.63 L634.36,588.29 L636.57,586.94 L638.77,585.56 L640.98,584.17 L643.19,582.76 L645.40,581.32 L647.60,579.87 L649.81,578.40 L652.02,576.91 L654.23,575.40 L656.43,573.87 L658.64,572.32 L660.85,570.74 L663.05,569.15 L665.26,567.54 L667.47,565.91 L669.68,564.26 L671.88,562.59 L674.09,560.89 L676.30,559.18 L678.51,557.44 L680.71,555.69 L682.92,553.91 L685.13,552.11 L687.34,550.29 L689.54,548.45 L691.75,546.59 L693.96,544.71 L696.17,542.80 L698.37,540.87 L700.58,538.93 L702.79,536.95 L705.00,534.96 L707.20,532.95 L709.41,530.91 L711.62,528.85 L713.82,526.77 L716.03,524.66 L718.24,522.53 L720.45,520.38 L722.65,518.21 L724.86,516.01 L727.07,513.79 L729.28,511.55 L731.48,509.29 L733.69,507.00 L735.90,504.69 L738.11,502.35 L740.31,499.99 L742.52,497.61 L744.73,495.20 L746.94,492.77 L749.14,490.31 L751.35,487.84 L753.56,485.33 L755.77,482.81 L757.97,480.25 L760.18,477.68 L762.39,475.08 L764.59,472.45 L766.80,469.80 L769.01,467.13 L771.22,464.43 L773.42,461.70 L775.63,458.95 L777.84,456.18 L780.05,453.38 L782.25,450.56 L784.46,447.71 L786.67,444.83 L788.88,441.93 L791.08,439.00 L793.29,436.05 L795.50,433.07 L797.71,430.07 L799.91,427.03 L802.12,423.98 L804.33,420.90 L806.54,417.79 L808.74,414.65 L810.95,411.49 L813.16,408.30 L815.37,405.09 L817.57,401.85 L819.78,398.58 L821.99,395.28 L824.19,391.96 L826.40,388.61" stroke="#a8387c" stroke-width="1.05" stroke-dasharray="1.3 0.5" fill="none"/>
<path d="M508.46,640.95 L510.60,640.45 L512.73,639.93 L514.86,639.40 L517.00,638.87 L519.13,638.32 L521.27,637.76 L523.40,637.20 L525.53,636.62 L527.67,636.03 L529.80,635.43 L531.94,634.82 L534.07,634.20 L536.20,633.56 L538.34,632.92 L540.47,632.27 L542.60,631.60 L544.74,630.93 L546.87,630.24 L549.01,629.54 L551.14,628.83 L553.27,628.11 L555.41,627.38 L557.54,626.63 L559.67,625.88 L561.81,625.11 L563.94,624.33 L566.08,623.54 L568.21,622.74 L570.34,621.93 L572.48,621.11 L574.61,620.27 L576.75,619.42 L578.88,618.56 L581.01,617.69 L583.15,616.81 L585.28,615.91 L587.41,615.01 L589.55,614.09 L591.68,613.16 L593.82,612.21 L595.95,611.26 L598.08,610.29 L600.22,609.31 L602.35,608.32 L604.49,607.31 L606.62,606.30 L608.75,605.27 L610.89,604.23 L613.02,603.17 L615.15,602.11 L617.29,601.03 L619.42,599.94 L621.56,598.83 L623.69,597.72 L625.82,596.59 L627.96,595.45 L630.09,594.29 L632.22,593.13 L634.36,591.95 L636.49,590.75 L638.63,589.55 L640.76,588.33 L642.89,587.10 L645.03,585.85 L647.16,584.60 L649.30,583.33 L651.43,582.04 L653.56,580.75 L655.70,579.44 L657.83,578.12 L659.96,576.78 L662.10,575.43 L664.23,574.07 L666.37,572.69 L668.50,571.31 L670.63,569.90 L672.77,568.49 L674.90,567.06 L677.03,565.62 L679.17,564.16 L681.30,562.69 L683.44,561.21 L685.57,559.71 L687.70,558.21 L689.84,556.68 L691.97,555.15 L694.11,553.60 L696.24,552.03 L698.37,550.45 L700.51,548.86 L702.64,547.26 L704.77,545.64 L706.91,544.01 L709.04,542.36 L711.18,540.70 L713.31,539.03 L715.44,537.34 L717.58,535.64 L719.71,533.92 L721.85,532.19 L723.98,530.45 L726.11,528.69 L728.25,526.92 L730.38,525.14 L732.51,523.34 L734.65,521.52 L736.78,519.70 L738.92,517.86 L741.05,516.00 L743.18,514.13 L745.32,512.25 L747.45,510.35 L749.58,508.44 L751.72,506.51 L753.85,504.57 L755.99,502.61 L758.12,500.64 L760.25,498.66 L762.39,496.66 L764.52,494.65 L766.66,492.62 L768.79,490.58 L770.92,488.53 L773.06,486.46 L775.19,484.37 L777.32,482.27 L779.46,480.16 L781.59,478.03 L783.73,475.89 L785.86,473.73 L787.99,471.56 L790.13,469.38 L792.26,467.18 L794.39,464.96 L796.53,462.73 L798.66,460.49 L800.80,458.23 L802.93,455.96 L805.06,453.67 L807.20,451.37 L809.33,449.05 L811.47,446.72 L813.60,444.37 L815.73,442.01 L817.87,439.63 L820.00,437.24 L822.13,434.83 L824.27,432.41 L826.40,429.98" stroke="#e0b850" stroke-width="1.3" stroke-dasharray="3 2.2" fill="none"/>
<path d="M508.46,640.97 L510.60,640.45 L512.73,639.92 L514.86,639.38 L517.00,638.82 L519.13,638.26 L521.27,637.69 L523.40,637.10 L525.53,636.50 L527.67,635.89 L529.80,635.28 L531.94,634.65 L534.07,634.00 L536.20,633.35 L538.34,632.69 L540.47,632.01 L542.60,631.32 L544.74,630.62 L546.87,629.91 L549.01,629.19 L551.14,628.46 L553.27,627.71 L555.41,626.95 L557.54,626.18 L559.67,625.40 L561.81,624.61 L563.94,623.81 L566.08,622.99 L568.21,622.16 L570.34,621.32 L572.48,620.46 L574.61,619.60 L576.75,618.72 L578.88,617.83 L581.01,616.92 L583.15,616.01 L585.28,615.08 L587.41,614.14 L589.55,613.19 L591.68,612.22 L593.82,611.24 L595.95,610.25 L598.08,609.25 L600.22,608.23 L602.35,607.20 L604.49,606.16 L606.62,605.10 L608.75,604.04 L610.89,602.96 L613.02,601.86 L615.15,600.75 L617.29,599.63 L619.42,598.50 L621.56,597.35 L623.69,596.19 L625.82,595.02 L627.96,593.83 L630.09,592.63 L632.22,591.42 L634.36,590.19 L636.49,588.95 L638.63,587.70 L640.76,586.43 L642.89,585.15 L645.03,583.86 L647.16,582.55 L649.30,581.23 L651.43,579.89 L653.56,578.54 L655.70,577.18 L657.83,575.80 L659.96,574.41 L662.10,573.01 L664.23,571.59 L666.37,570.15 L668.50,568.71 L670.63,567.25 L672.77,565.77 L674.90,564.28 L677.03,562.78 L679.17,561.26 L681.30,559.73 L683.44,558.19 L685.57,556.63 L687.70,555.06 L689.84,553.47 L691.97,551.86 L694.11,550.25 L696.24,548.62 L698.37,546.97 L700.51,545.31 L702.64,543.64 L704.77,541.95 L706.91,540.25 L709.04,538.53 L711.18,536.80 L713.31,535.05 L715.44,533.29 L717.58,531.51 L719.71,529.72 L721.85,527.91 L723.98,526.09 L726.11,524.26 L728.25,522.41 L730.38,520.54 L732.51,518.66 L734.65,516.77 L736.78,514.86 L738.92,512.94 L741.05,511.00 L743.18,509.04 L745.32,507.07 L747.45,505.09 L749.58,503.09 L751.72,501.08 L753.85,499.05 L755.99,497.00 L758.12,494.95 L760.25,492.87 L762.39,490.78 L764.52,488.68 L766.66,486.56 L768.79,484.42 L770.92,482.27 L773.06,480.11 L775.19,477.93 L777.32,475.73 L779.46,473.52 L781.59,471.29 L783.73,469.05 L785.86,466.79 L787.99,464.52 L790.13,462.23 L792.26,459.93 L794.39,457.61 L796.53,455.28 L798.66,452.93 L800.80,450.56 L802.93,448.18 L805.06,445.78 L807.20,443.37 L809.33,440.94 L811.47,438.50 L813.60,436.04 L815.73,433.57 L817.87,431.08 L820.00,428.57 L822.13,426.05 L824.27,423.51 L826.40,420.96" stroke="#78b098" stroke-width="1.2" stroke-dasharray="1.2 2.5" fill="none"/>
<path d="M508.46,640.92 L510.60,640.44 L512.73,639.95 L514.86,639.45 L517.00,638.93 L519.13,638.41 L521.27,637.87 L523.40,637.33 L525.53,636.77 L527.67,636.20 L529.80,635.62 L531.94,635.02 L534.07,634.42 L536.20,633.80 L538.34,633.17 L540.47,632.53 L542.60,631.88 L544.74,631.21 L546.87,630.54 L549.01,629.84 L551.14,629.14 L553.27,628.43 L555.41,627.70 L557.54,626.96 L559.67,626.21 L561.81,625.44 L563.94,624.66 L566.08,623.87 L568.21,623.06 L570.34,622.24 L572.48,621.41 L574.61,620.57 L576.75,619.71 L578.88,618.84 L581.01,617.96 L583.15,617.06 L585.28,616.15 L587.41,615.22 L589.55,614.28 L591.68,613.33 L593.82,612.36 L595.95,611.38 L598.08,610.39 L600.22,609.38 L602.35,608.35 L604.49,607.32 L606.62,606.27 L608.75,605.20 L610.89,604.12 L613.02,603.03 L615.15,601.92 L617.29,600.79 L619.42,599.65 L621.56,598.50 L623.69,597.33 L625.82,596.15 L627.96,594.96 L630.09,593.74 L632.22,592.52 L634.36,591.27 L636.49,590.02 L638.63,588.74 L640.76,587.46 L642.89,586.15 L645.03,584.83 L647.16,583.50 L649.30,582.15 L651.43,580.79 L653.56,579.41 L655.70,578.01 L657.83,576.60 L659.96,575.17 L662.10,573.73 L664.23,572.27 L666.37,570.80 L668.50,569.30 L670.63,567.80 L672.77,566.28 L674.90,564.74 L677.03,563.18 L679.17,561.61 L681.30,560.02 L683.44,558.42 L685.57,556.80 L687.70,555.16 L689.84,553.51 L691.97,551.84 L694.11,550.15 L696.24,548.45 L698.37,546.73 L700.51,544.99 L702.64,543.24 L704.77,541.47 L706.91,539.69 L709.04,537.88 L711.18,536.06 L713.31,534.22 L715.44,532.37 L717.58,530.50 L719.71,528.61 L721.85,526.70 L723.98,524.78 L726.11,522.84 L728.25,520.88 L730.38,518.91 L732.51,516.91 L734.65,514.90 L736.78,512.88 L738.92,510.83 L741.05,508.77 L743.18,506.69 L745.32,504.59 L747.45,502.47 L749.58,500.34 L751.72,498.19 L753.85,496.02 L755.99,493.83 L758.12,491.63 L760.25,489.40 L762.39,487.16 L764.52,484.90 L766.66,482.63 L768.79,480.33 L770.92,478.02 L773.06,475.69 L775.19,473.34 L777.32,470.97 L779.46,468.58 L781.59,466.18 L783.73,463.75 L785.86,461.31 L787.99,458.85 L790.13,456.37 L792.26,453.88 L794.39,451.36 L796.53,448.83 L798.66,446.27 L800.80,443.70 L802.93,441.11 L805.06,438.50 L807.20,435.87 L809.33,433.23 L811.47,430.56 L813.60,427.88 L815.73,425.17 L817.87,422.45 L820.00,419.71 L822.13,416.95 L824.27,414.17 L826.40,411.37" stroke="#4654a0" stroke-width="1.2" stroke-dasharray="4 2.5 1.2 2.5" fill="none"/>

</g>

<path d="M697.60,543.31L702.40,548.11M697.60,548.11L702.40,543.31" stroke="#80c090" stroke-width="1.0" fill="none"/>
<path d="M706.60,536.16L711.40,540.96M706.60,540.96L711.40,536.16" stroke="#80c090" stroke-width="1.0" fill="none"/>
<path d="M715.60,528.76L720.40,533.56M715.60,533.56L720.40,528.76" stroke="#80c090" stroke-width="1.0" fill="none"/>
<path d="M724.60,521.09L729.40,525.89M724.60,525.89L729.40,521.09" stroke="#80c090" stroke-width="1.0" fill="none"/>
<path d="M733.60,513.16L738.40,517.96M733.60,517.96L738.40,513.16" stroke="#80c090" stroke-width="1.0" fill="none"/>
<path d="M742.60,504.97L747.40,509.77M742.60,509.77L747.40,504.97" stroke="#80c090" stroke-width="1.0" fill="none"/>
<path d="M751.60,496.51L756.40,501.31M751.60,501.31L756.40,496.51" stroke="#80c090" stroke-width="1.0" fill="none"/>
<path d="M760.60,487.78L765.40,492.58M760.60,492.58L765.40,487.78" stroke="#80c090" stroke-width="1.0" fill="none"/>
<path d="M769.60,478.78L774.40,483.58M769.60,483.58L774.40,478.78" stroke="#80c090" stroke-width="1.0" fill="none"/>
<path d="M778.60,469.51L783.40,474.31M778.60,474.31L783.40,469.51" stroke="#80c090" stroke-width="1.0" fill="none"/>
<path d="M787.60,459.97L792.40,464.77M787.60,464.77L792.40,459.97" stroke="#80c090" stroke-width="1.0" fill="none"/>
<path d="M796.60,450.15L801.40,454.95M796.60,454.95L801.40,450.15" stroke="#80c090" stroke-width="1.0" fill="none"/>
<path d="M597.20,606.61L602.80,612.21M597.20,612.21L602.80,606.61" stroke="#e8b040" stroke-width="1.3" fill="none"/>
<path d="M601.70,604.51L607.30,610.11M601.70,610.11L607.30,604.51" stroke="#e8b040" stroke-width="1.3" fill="none"/>
<path d="M606.20,602.35L611.80,607.95M606.20,607.95L611.80,602.35" stroke="#e8b040" stroke-width="1.3" fill="none"/>
<path d="M610.70,600.14L616.30,605.74M610.70,605.74L616.30,600.14" stroke="#e8b040" stroke-width="1.3" fill="none"/>
<path d="M615.20,597.87L620.80,603.47M615.20,603.47L620.80,597.87" stroke="#e8b040" stroke-width="1.3" fill="none"/>
<path d="M619.70,595.54L625.30,601.14M619.70,601.14L625.30,595.54" stroke="#e8b040" stroke-width="1.3" fill="none"/>
<path d="M624.20,593.16L629.80,598.76M624.20,598.76L629.80,593.16" stroke="#e8b040" stroke-width="1.3" fill="none"/>
<path d="M628.70,590.72L634.30,596.32M628.70,596.32L634.30,590.72" stroke="#e8b040" stroke-width="1.3" fill="none"/>
<path d="M633.20,588.23L638.80,593.83M633.20,593.83L638.80,588.23" stroke="#e8b040" stroke-width="1.3" fill="none"/>
<path d="M637.70,585.68L643.30,591.28M637.70,591.28L643.30,585.68" stroke="#e8b040" stroke-width="1.3" fill="none"/>
<path d="M642.20,583.07L647.80,588.67M642.20,588.67L647.80,583.07" stroke="#e8b040" stroke-width="1.3" fill="none"/>
<path d="M646.70,580.40L652.30,586.00M646.70,586.00L652.30,580.40" stroke="#e8b040" stroke-width="1.3" fill="none"/>
<path d="M651.20,577.68L656.80,583.28M651.20,583.28L656.80,577.68" stroke="#e8b040" stroke-width="1.3" fill="none"/>
<path d="M655.70,574.90L661.30,580.50M655.70,580.50L661.30,574.90" stroke="#e8b040" stroke-width="1.3" fill="none"/>
<path d="M660.20,572.06L665.80,577.66M660.20,577.66L665.80,572.06" stroke="#e8b040" stroke-width="1.3" fill="none"/>
<path d="M664.70,569.16L670.30,574.76M664.70,574.76L670.30,569.16" stroke="#e8b040" stroke-width="1.3" fill="none"/>
<path d="M669.20,566.20L674.80,571.80M669.20,571.80L674.80,566.20" stroke="#e8b040" stroke-width="1.3" fill="none"/>
<path d="M673.70,563.18L679.30,568.78M673.70,568.78L679.30,563.18" stroke="#e8b040" stroke-width="1.3" fill="none"/>
<path d="M678.20,560.10L683.80,565.70M678.20,565.70L683.80,560.10" stroke="#e8b040" stroke-width="1.3" fill="none"/>
<path d="M682.70,556.96L688.30,562.56M682.70,562.56L688.30,556.96" stroke="#e8b040" stroke-width="1.3" fill="none"/>
<path d="M687.20,553.77L692.80,559.37M687.20,559.37L692.80,553.77" stroke="#e8b040" stroke-width="1.3" fill="none"/>
<path d="M691.70,550.51L697.30,556.11M691.70,556.11L697.30,550.51" stroke="#e8b040" stroke-width="1.3" fill="none"/>
<path d="M696.20,547.19L701.80,552.79M696.20,552.79L701.80,547.19" stroke="#e8b040" stroke-width="1.3" fill="none"/>
<path d="M700.70,543.81L706.30,549.41M700.70,549.41L706.30,543.81" stroke="#e8b040" stroke-width="1.3" fill="none"/>
<path d="M705.20,540.37L710.80,545.97M705.20,545.97L710.80,540.37" stroke="#e8b040" stroke-width="1.3" fill="none"/>
<path d="M709.70,536.86L715.30,542.46M709.70,542.46L715.30,536.86" stroke="#e8b040" stroke-width="1.3" fill="none"/>
<path d="M714.20,533.30L719.80,538.90M714.20,538.90L719.80,533.30" stroke="#e8b040" stroke-width="1.3" fill="none"/>
<path d="M718.70,529.67L724.30,535.27M718.70,535.27L724.30,529.67" stroke="#e8b040" stroke-width="1.3" fill="none"/>
<path d="M723.20,525.99L728.80,531.59M723.20,531.59L728.80,525.99" stroke="#e8b040" stroke-width="1.3" fill="none"/>
<path d="M727.70,522.24L733.30,527.84M727.70,527.84L733.30,522.24" stroke="#e8b040" stroke-width="1.3" fill="none"/>
<path d="M732.20,518.42L737.80,524.02M732.20,524.02L737.80,518.42" stroke="#e8b040" stroke-width="1.3" fill="none"/>
<path d="M736.70,514.55L742.30,520.15M736.70,520.15L742.30,514.55" stroke="#e8b040" stroke-width="1.3" fill="none"/>
<path d="M741.20,510.61L746.80,516.21M741.20,516.21L746.80,510.61" stroke="#e8b040" stroke-width="1.3" fill="none"/>
<path d="M745.70,506.61L751.30,512.21M745.70,512.21L751.30,506.61" stroke="#e8b040" stroke-width="1.3" fill="none"/>
<path d="M750.20,502.55L755.80,508.15M750.20,508.15L755.80,502.55" stroke="#e8b040" stroke-width="1.3" fill="none"/>
<path d="M754.70,498.42L760.30,504.02M754.70,504.02L760.30,498.42" stroke="#e8b040" stroke-width="1.3" fill="none"/>
<path d="M604.00,604.15L604.00,610.95M601.55,605.11L606.45,610.00M601.55,610.00L606.45,605.11M600.60,607.55L607.40,607.55" stroke="#4a5cc0" stroke-width="1.0" fill="none"/>
<path d="M614.00,599.12L614.00,605.92M611.55,600.07L616.45,604.97M611.55,604.97L616.45,600.07M610.60,602.52L617.40,602.52" stroke="#4a5cc0" stroke-width="1.0" fill="none"/>
<path d="M624.00,593.76L624.00,600.56M621.55,594.72L626.45,599.61M621.55,599.61L626.45,594.72M620.60,597.16L627.40,597.16" stroke="#4a5cc0" stroke-width="1.0" fill="none"/>
<path d="M634.00,588.08L634.00,594.88M631.55,589.04L636.45,593.93M631.55,593.93L636.45,589.04M630.60,591.48L637.40,591.48" stroke="#4a5cc0" stroke-width="1.0" fill="none"/>
<path d="M644.00,582.07L644.00,588.87M641.55,583.02L646.45,587.92M641.55,587.92L646.45,583.02M640.60,585.47L647.40,585.47" stroke="#4a5cc0" stroke-width="1.0" fill="none"/>
<path d="M654.00,575.72L654.00,582.52M651.55,576.67L656.45,581.57M651.55,581.57L656.45,576.67M650.60,579.12L657.40,579.12" stroke="#4a5cc0" stroke-width="1.0" fill="none"/>
<path d="M664.00,569.03L664.00,575.83M661.55,569.98L666.45,574.88M661.55,574.88L666.45,569.98M660.60,572.43L667.40,572.43" stroke="#4a5cc0" stroke-width="1.0" fill="none"/>
<path d="M674.30,561.77L674.30,568.57M671.85,562.72L676.75,567.62M671.85,567.62L676.75,562.72M670.90,565.17L677.70,565.17" stroke="#4a5cc0" stroke-width="1.0" fill="none"/>
<path d="M684.40,554.29L684.40,561.09M681.95,555.24L686.85,560.14M681.95,560.14L686.85,555.24M681.00,557.69L687.80,557.69" stroke="#4a5cc0" stroke-width="1.0" fill="none"/>
<path d="M694.40,546.52L694.40,553.32M691.95,547.47L696.85,552.37M691.95,552.37L696.85,547.47M691.00,549.92L697.80,549.92" stroke="#4a5cc0" stroke-width="1.0" fill="none"/>
<path d="M703.50,539.13L703.50,545.93M701.05,540.08L705.95,544.98M701.05,544.98L705.95,540.08M700.10,542.53L706.90,542.53" stroke="#4a5cc0" stroke-width="1.0" fill="none"/>
<path d="M713.60,530.57L713.60,537.37M711.15,531.52L716.05,536.42M711.15,536.42L716.05,531.52M710.20,533.97L717.00,533.97" stroke="#4a5cc0" stroke-width="1.0" fill="none"/>
<path d="M722.60,522.62L722.60,529.42M720.15,523.58L725.05,528.47M720.15,528.47L725.05,523.58M719.20,526.02L726.00,526.02" stroke="#4a5cc0" stroke-width="1.0" fill="none"/>
<path d="M732.70,513.34L732.70,520.14M730.25,514.29L735.15,519.19M730.25,519.19L735.15,514.29M729.30,516.74L736.10,516.74" stroke="#4a5cc0" stroke-width="1.0" fill="none"/>
<path d="M741.70,504.73L741.70,511.53M739.25,505.69L744.15,510.58M739.25,510.58L744.15,505.69M738.30,508.13L745.10,508.13" stroke="#4a5cc0" stroke-width="1.0" fill="none"/>
<path d="M751.40,495.11L751.40,501.91M748.95,496.06L753.85,500.96M748.95,500.96L753.85,496.06M748.00,498.51L754.80,498.51" stroke="#4a5cc0" stroke-width="1.0" fill="none"/>
<path d="M760.40,485.85L760.40,492.65M757.95,486.80L762.85,491.70M757.95,491.70L762.85,486.80M757.00,489.25L763.80,489.25" stroke="#4a5cc0" stroke-width="1.0" fill="none"/>
<path d="M769.40,476.27L769.40,483.07M766.95,477.22L771.85,482.12M766.95,482.12L771.85,477.22M766.00,479.67L772.80,479.67" stroke="#4a5cc0" stroke-width="1.0" fill="none"/>
<path d="M778.50,466.26L778.50,473.06M776.05,467.21L780.95,472.10M776.05,472.10L780.95,467.21M775.10,469.66L781.90,469.66" stroke="#4a5cc0" stroke-width="1.0" fill="none"/>
<path d="M787.50,456.02L787.50,462.82M785.05,456.97L789.95,461.87M785.05,461.87L789.95,456.97M784.10,459.42L790.90,459.42" stroke="#4a5cc0" stroke-width="1.0" fill="none"/>
<path d="M796.50,445.46L796.50,452.26M794.05,446.41L798.95,451.31M794.05,451.31L798.95,446.41M793.10,448.86L799.90,448.86" stroke="#4a5cc0" stroke-width="1.0" fill="none"/>
<path d="M805.60,434.44L805.60,441.24M803.15,435.39L808.05,440.29M803.15,440.29L808.05,435.39M802.20,437.84L809.00,437.84" stroke="#4a5cc0" stroke-width="1.0" fill="none"/>
<path d="M814.60,423.21L814.60,430.01M812.15,424.16L817.05,429.06M812.15,429.06L817.05,424.16M811.20,426.61L818.00,426.61" stroke="#4a5cc0" stroke-width="1.0" fill="none"/>
<path d="M823.30,412.03L823.30,418.83M820.85,412.98L825.75,417.88M820.85,417.88L825.75,412.98M819.90,415.43L826.70,415.43" stroke="#4a5cc0" stroke-width="1.0" fill="none"/>
<path d="M511.20,640.30 L513.85,639.67 L516.50,639.02 L519.15,638.35 L521.80,637.68 L524.45,636.98 L527.10,636.27 L529.75,635.55 L532.39,634.81 L535.04,634.06 L537.69,633.29 L540.34,632.50 L542.99,631.71 L545.64,630.89 L548.29,630.06 L550.94,629.22 L553.58,628.36 L556.23,627.48 L558.88,626.59 L561.53,625.69 L564.18,624.77 L566.83,623.84 L569.48,622.89 L572.12,621.92 L574.77,620.94 L577.42,619.95 L580.07,618.94 L582.72,617.91 L585.37,616.87 L588.02,615.81 L590.67,614.74 L593.31,613.66 L595.96,612.56 L598.61,611.44 L601.26,610.31 L603.91,609.16 L606.56,608.00 L609.21,606.82 L611.86,605.63 L614.50,604.42 L617.15,603.20 L619.80,601.96 L622.45,600.71 L625.10,599.44 L627.75,598.16 L630.40,596.86 L633.05,595.55 L635.69,594.22 L638.34,592.87 L640.99,591.51 L643.64,590.14 L646.29,588.75 L648.94,587.34 L651.59,585.92 L654.24,584.48 L656.88,583.03 L659.53,581.56 L662.18,580.08 L664.83,578.58 L667.48,577.07 L670.13,575.54 L672.78,573.99 L675.42,572.43 L678.07,570.86 L680.72,569.27 L683.37,567.66 L686.02,566.04 L688.67,564.40 L691.32,562.74 L693.97,561.07 L696.61,559.39 L699.26,557.69 L701.91,555.97 L704.56,554.24 L707.21,552.49 L709.86,550.73 L712.51,548.95 L715.16,547.16 L717.80,545.35 L720.45,543.52 L723.10,541.68 L725.75,539.82 L728.40,537.95 L731.05,536.06 L733.70,534.15 L736.35,532.23 L738.99,530.29 L741.64,528.34 L744.29,526.37 L746.94,524.39 L749.59,522.39 L752.24,520.37 L754.89,518.34 L757.54,516.29 L760.18,514.22 L762.83,512.14 L765.48,510.05 L768.13,507.93 L770.78,505.80 L773.43,503.66 L776.08,501.50 L778.73,499.32 L781.37,497.13 L784.02,494.92 L786.67,492.69 L789.32,490.45 L791.97,488.19 L794.62,485.91 L797.27,483.62 L799.91,481.31 L802.56,478.99 L805.21,476.65 L807.86,474.29 L810.51,471.92 L813.16,469.53 L815.81,467.12 L818.46,464.70 L821.10,462.26 L823.75,459.81 L826.40,457.34" stroke="#000" stroke-width="2.3" fill="none"/>
<rect x="540.90" y="627.77" width="7" height="7" fill="#000"/>
<rect x="550.90" y="624.59" width="7" height="7" fill="#000"/>
<rect x="570.10" y="617.88" width="7" height="7" fill="#000"/>
<rect x="589.20" y="610.41" width="7" height="7" fill="#000"/>
<rect x="599.70" y="605.97" width="7" height="7" fill="#000"/>
<rect x="622.50" y="595.51" width="7" height="7" fill="#000"/>
<rect x="628.50" y="592.57" width="7" height="7" fill="#000"/>
<rect x="644.50" y="584.34" width="7" height="7" fill="#000"/>
<rect x="651.50" y="580.56" width="7" height="7" fill="#000"/>
<rect x="656.80" y="577.63" width="7" height="7" fill="#000"/>
<rect x="663.00" y="574.13" width="7" height="7" fill="#000"/>
<rect x="668.70" y="570.83" width="7" height="7" fill="#000"/>
<rect x="682.20" y="562.73" width="7" height="7" fill="#000"/>
<rect x="697.50" y="553.07" width="7" height="7" fill="#000"/>
<rect x="706.50" y="547.14" width="7" height="7" fill="#000"/>
<rect x="714.80" y="541.51" width="7" height="7" fill="#000"/>
<rect x="728.30" y="532.02" width="7" height="7" fill="#000"/>
<rect x="738.50" y="524.58" width="7" height="7" fill="#000"/>
<rect x="750.20" y="515.75" width="7" height="7" fill="#000"/>
<rect x="758.90" y="508.98" width="7" height="7" fill="#000"/>
<rect x="769.20" y="500.75" width="7" height="7" fill="#000"/>
<rect x="497.5" y="376.6" width="328.90" height="263.70" fill="none" stroke="#111" stroke-width="1.3"/>
<path d="M497.50,640.30h3.3 M497.50,623.81h2.3 M497.50,607.32h3.3 M497.50,590.84h2.3 M497.50,574.35h3.3 M497.50,557.86h2.3 M497.50,541.38h3.3 M497.50,524.89h2.3 M497.50,508.40h3.3 M497.50,491.91h2.3 M497.50,475.42h3.3 M497.50,458.94h2.3 M497.50,442.45h3.3 M497.50,425.96h2.3 M497.50,409.47h3.3 M497.50,392.99h2.3 M497.50,376.50h3.3 M497.50,640.30v-3.0 M524.91,640.30v-2.2 M552.32,640.30v-3.0 M579.73,640.30v-2.2 M607.13,640.30v-3.0 M634.54,640.30v-2.2 M661.95,640.30v-3.0 M689.36,640.30v-2.2 M716.77,640.30v-3.0 M744.18,640.30v-2.2 M771.59,640.30v-3.0 M798.99,640.30v-2.2 M826.40,640.30v-3.0" stroke="#111" stroke-width="1.1" fill="none"/>
<g font-size="11.5" fill="#1a1a1a"><text x="492" y="644.40" text-anchor="end">0</text><text x="492" y="611.42" text-anchor="end">50</text><text x="492" y="578.45" text-anchor="end">100</text><text x="492" y="545.48" text-anchor="end">150</text><text x="492" y="512.50" text-anchor="end">200</text><text x="492" y="479.52" text-anchor="end">250</text><text x="492" y="446.55" text-anchor="end">300</text><text x="492" y="413.57" text-anchor="end">350</text><text x="492" y="380.60" text-anchor="end">400</text><text x="497.50" y="656.90" text-anchor="middle" textLength="28.5" lengthAdjust="spacingAndGlyphs">8.00</text><text x="552.32" y="656.90" text-anchor="middle" textLength="28.5" lengthAdjust="spacingAndGlyphs">9.00</text><text x="607.13" y="656.90" text-anchor="middle" textLength="28.5" lengthAdjust="spacingAndGlyphs">10.00</text><text x="661.95" y="656.90" text-anchor="middle" textLength="28.5" lengthAdjust="spacingAndGlyphs">11.00</text><text x="716.77" y="656.90" text-anchor="middle" textLength="28.5" lengthAdjust="spacingAndGlyphs">12.00</text><text x="771.59" y="656.90" text-anchor="middle" textLength="28.5" lengthAdjust="spacingAndGlyphs">13.00</text><text x="826.40" y="656.90" text-anchor="middle" textLength="28.5" lengthAdjust="spacingAndGlyphs">14.00</text></g>
<text x="440.6" y="385.40" font-size="14.5" font-weight="bold" fill="#111">B</text>
<text x="599" y="674.30" font-size="14.4" fill="#1a1a1a" textLength="127" lengthAdjust="spacingAndGlyphs">ρ, density (g cm<tspan dy="-5" font-size="9">−3</tspan><tspan dy="5">)</tspan></text>
<text transform="translate(451.8,572.00) rotate(-90)" x="0" y="0" font-size="15.8" fill="#1a1a1a" textLength="127.6" lengthAdjust="spacingAndGlyphs"><tspan font-style="italic">P</tspan>, pressure (GPa)</text>
<path d="M508.6,386.50H541.2" stroke="#000" stroke-width="2.2"/><rect x="521.10" y="382.80" width="7.8" height="7.8" fill="#000"/>
<text x="547.4" y="390.60" font-size="11.5" font-weight="bold" fill="#111" textLength="249.0" lengthAdjust="spacingAndGlyphs">Calibrated isotherm (<tspan font-style="italic">P</tspan> scale: Re) (this study)</text>
<path d="M508.6,399.90H541.2" stroke="#8c6488" stroke-width="1.3" stroke-dasharray="1.2 0.6"/>
<text x="547.4" y="404.00" font-size="11.5" font-weight="bold" fill="#9e2a8a" textLength="184.8" lengthAdjust="spacingAndGlyphs">Shock (reduced isotherm) (MR70)</text>
<path d="M508.6,413.30H541.2" stroke="#d8b060" stroke-width="1.3" stroke-dasharray="2.2 2"/><path d="M522.00,410.30L528.00,416.30M522.00,416.30L528.00,410.30" stroke="#dcb048" stroke-width="1.5" fill="none"/>
<text x="547.4" y="417.40" font-size="11.5" font-weight="bold" fill="#d0a848" textLength="165.2" lengthAdjust="spacingAndGlyphs">XRD (<tspan font-style="italic">P</tspan> scale: ruby, W) (DA06)</text>
<path d="M508.6,426.50H541.2" stroke="#a0aaa4" stroke-width="1.2" stroke-dasharray="1.2 4.3"/><path d="M521.50,426.50L528.50,426.50M525.00,423.00L525.00,430.00" stroke="#4a8c6a" stroke-width="1.4" fill="none"/>
<text x="547.4" y="430.60" font-size="11.5" font-weight="bold" fill="#4e9c74" textLength="131.7" lengthAdjust="spacingAndGlyphs">XRD (<tspan font-style="italic">P</tspan> scale: Pt) (ST14)</text>
<path d="M508.6,439.60H517" stroke="#9098b0" stroke-width="1.2" stroke-dasharray="1.5 2.5"/><path d="M518,439.60H531M534,439.60H540" stroke="#3c4678" stroke-width="1.3"/><path d="M525.00,436.10L525.00,443.10M522.48,437.08L527.52,442.12M522.48,442.12L527.52,437.08M521.50,439.60L528.50,439.60" stroke="#5060c0" stroke-width="1.2" fill="none"/>
<text x="547.4" y="443.70" font-size="11.5" font-weight="bold" fill="#414f8e" textLength="184.2" lengthAdjust="spacingAndGlyphs">Shock (reduced isentrope) (SR18)</text>
<text x="525.5" y="477.60" font-size="13.6" fill="#1a1a1a" textLength="160" lengthAdjust="spacingAndGlyphs"><tspan font-style="italic">K</tspan><tspan dx="0.8">-primed EoS parameters</tspan></text>
<text x="547.3" y="494.50" font-size="13.6" fill="#1a1a1a">ρ<tspan font-size="8.6" dx="0.2" dy="2">0</tspan><tspan dy="-2"> = 8.25 g cm</tspan><tspan font-size="8.6" dx="0.5" dy="-5.5">−3</tspan></text>
<text x="547.3" y="510.20" font-size="13.6" fill="#1a1a1a"><tspan font-style="italic">K</tspan><tspan font-size="8.6" dx="-0.6" dy="2">0</tspan><tspan dy="-2"> = 162 GPa</tspan></text>
<text x="547.3" y="526.20" font-size="13.6" fill="#1a1a1a"><tspan font-style="italic">K</tspan><tspan font-size="12" font-style="italic" font-weight="bold" dx="-0.8" dy="-0.5">&#39;</tspan><tspan font-size="8.6" dx="-3.6" dy="2.5">0</tspan><tspan dy="-2"> = 5.12</tspan></text>
<text x="547.3" y="542.30" font-size="13.6" fill="#1a1a1a"><tspan font-style="italic">K</tspan><tspan font-size="12" font-style="italic" font-weight="bold" dx="-0.8" dy="-0.5">&#39;</tspan><tspan font-size="8" dx="-3.9" dy="2.5">∞</tspan><tspan dy="-2"> = 2.55</tspan></text>
<rect x="749.6" y="607.90" width="66.3" height="21.8" rx="2.8" fill="#fff" stroke="#111" stroke-width="1.05"/>
<text x="782.8" y="623.70" text-anchor="middle" font-size="13.5" fill="#111">Hcp-iron</text>
<rect x="460" y="543" width="84" height="15" fill="#fff" opacity="0.55" filter="url(#blurB)"/><text x="462" y="556" font-size="10.5" font-weight="bold" fill="#dcdcdc" filter="url(#blurB)" textLength="78" lengthAdjust="spacingAndGlyphs">@Physics optics</text>
</symbol></svg>
<div id="bg"><svg id="bgs" width="404" height="720" viewBox="0 0 404 720"><use href="#P" width="404" height="720"/></svg><div id="dim"></div></div>
<svg id="fg" width="404" height="720" viewBox="0 0 404 720"><use href="#P" width="404" height="720"/></svg>
</body></html>
